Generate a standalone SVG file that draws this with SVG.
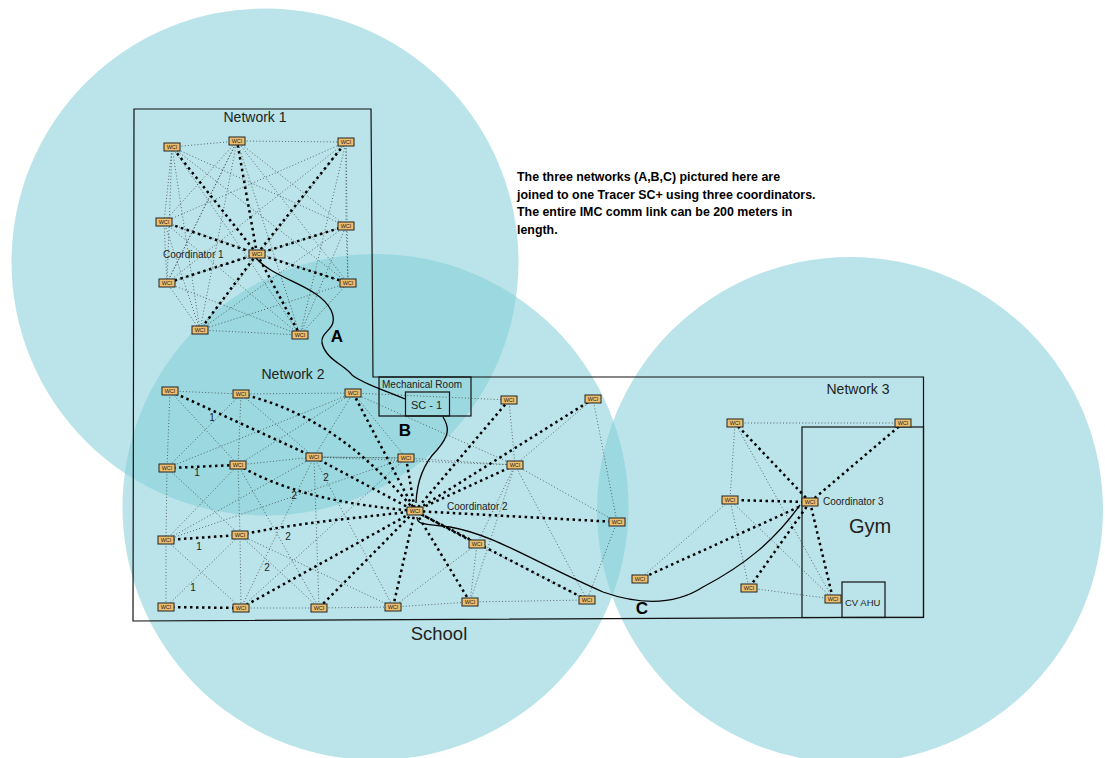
<svg xmlns="http://www.w3.org/2000/svg" width="1105" height="758" viewBox="0 0 1105 758">
<style>
.zone{fill:#82CDD7;fill-opacity:.55}
.wall{fill:none;stroke:#111;stroke-width:1.2}
.thin{fill:none;stroke:#333;stroke-width:.7;stroke-dasharray:1 2.2}
.thick{fill:none;stroke:#000;stroke-width:2.5;stroke-dasharray:2.5 3.5}
.cable{fill:none;stroke:#000;stroke-width:1.3}
.box{fill:#EDBE6E;stroke:#222;stroke-width:1}
.wci{font:5.5px "Liberation Sans",Arial,sans-serif;fill:#222;text-anchor:middle}
text{font-family:"Liberation Sans",Arial,sans-serif;fill:#222}
.m{text-anchor:middle}
.l14{font-size:14px}.l10{font-size:10px}.n{font-size:10px;text-anchor:middle}
.b{font-size:17px;font-weight:bold;fill:#000;text-anchor:middle}
.note{font-size:12.4px;font-weight:bold;fill:#000}
</style>
<defs><g id="w"><rect class="box" x="-8" y="-4" width="16" height="8"/><text class="wci" y="2">WCI</text></g></defs>
<circle class="zone" cx="265" cy="262" r="253.5"/>
<circle class="zone" cx="375.500" cy="507" r="253"/>
<circle class="zone" cx="850" cy="510" r="253"/>
<g id="walls">
<path class="wall" d="M134 109H371L373 377H923.500V617L133 621Z"/>
<rect class="wall" x="802" y="427" width="121.500" height="190.500"/>
<rect class="wall" x="842" y="582" width="43" height="35.500"/>
<rect class="wall" x="379" y="377" width="92" height="39"/>
<rect class="wall" x="405.500" y="392" width="44" height="24"/>
</g>
<g id="connectors">
<path class="thin" d="M172 147L237 141M237 141L346 142M172 147L164 222M164 222L167 283M167 283L200 330M200 330L300 335M300 335L348 283M348 283L346 226M346 226L346 142M172 147L167 283M172 147L200 330M237 141L164 222M237 141L167 283M237 141L200 330M346 142L164 222M346 142L167 283M346 142L300 335M346 142L348 283M172 147L346 226M237 141L346 226M237 141L348 283M237 141L300 335M172 147L300 335M172 147L348 283M164 222L200 330M164 222L300 335M164 222L348 283M167 283L300 335M200 330L346 226M200 330L348 283M300 335L346 226M167 283L346 226M167 283L237 141M200 330L346 142"/>
<path class="thin" d="M170 391L241 394M241 394L353 393M170 391L167 468M167 468L166 540M166 540L166 607M241 394L238 465M238 465L240 535M240 535L241 608M241 394L167 468M170 391L238 465M238 465L166 540M167 468L240 535M240 535L166 607M166 540L241 608M241 608L319 608M319 608L393 607M393 607L470 602M470 602L587 600M353 393L167 468M353 393L238 465M353 393L314 457M353 393L406 458M241 394L314 457M238 465L314 457M314 457L406 458M314 457L319 608M314 457L241 608M314 457L166 540M406 458L166 540M406 458L314 457M238 465L319 608M240 535L319 608M240 535L393 607M314 457L393 607M314 457L515 465M406 458L515 465M353 393L509 400M353 393L515 465M509 400L515 465M593 399L515 465M593 399L617 522M515 465L617 522M515 465L477 544M515 465L470 602M515 465L587 600M617 522L587 600M477 544L470 602M477 544L393 607M477 544L587 600M406 458L241 608"/>
<path class="thin" d="M735 423L903 423M735 423L730 500M735 423L833 599M730 500L640 579M730 500L749 588M730 500L833 599M749 588L833 599"/>
<path class="thick" d="M257 254L172 147M257 254L237 141M257 254L346 142M257 254L164 222M257 254L346 226M257 254L167 283M257 254L348 283M257 254L200 330M257 254L300 335"/>
<path class="thick" d="M170 391L314 457M314 457L415 511M167 468L238 465M166 540L240 535M166 607L241 608M353 393L415 511M406 458L415 511M241 394C310 410 365 450 415 511M238 465C290 495 350 505 415 511M240 535C300 522 360 518 415 511M241 608L415 511M319 608L415 511M393 607L415 511M509 400L415 511M593 399L415 511M515 465L415 511M617 522L415 511M477 544L415 511M470 602L415 511M587 600L415 511"/>
<path class="thick" d="M810 502L735 423M810 502L903 423M810 502L730 500M810 502L640 579M810 502L749 588M810 502L833 599"/>
<path class="cable" d="M256 258C275 280 318 285 331 310C340 330 320 330 322 343C326 360 345 365 352 375C365 385 385 390 405 399"/>
<path class="cable" d="M443 417C450 428 449 436 437 450C425 462 417 480 416 503"/>
<path class="cable" d="M417 517C417 525 425 524 450 527C495 535 530 560 603 592C640 605 675 605 703 587C745 565 775 540 800 505"/>
</g>
<g id="n1a" transform="translate(172 147)"><use href="#w"/></g>
<g id="n1b" transform="translate(237 141)"><use href="#w"/></g>
<g id="n1c" transform="translate(346 142)"><use href="#w"/></g>
<g id="n1d" transform="translate(164 222)"><use href="#w"/></g>
<g id="n1e" transform="translate(346 226)"><use href="#w"/></g>
<g id="n1f" transform="translate(167 283)"><use href="#w"/></g>
<g id="n1g" transform="translate(348 283)"><use href="#w"/></g>
<g id="n1h" transform="translate(200 330)"><use href="#w"/></g>
<g id="n1i" transform="translate(300 335)"><use href="#w"/></g>
<g id="coord1" transform="translate(257 254)"><use href="#w"/></g>
<g id="n2a" transform="translate(170 391)"><use href="#w"/></g>
<g id="n2b" transform="translate(241 394)"><use href="#w"/></g>
<g id="n2c" transform="translate(353 393)"><use href="#w"/></g>
<g id="n2d" transform="translate(167 468)"><use href="#w"/></g>
<g id="n2e" transform="translate(238 465)"><use href="#w"/></g>
<g id="n2f" transform="translate(314 457)"><use href="#w"/></g>
<g id="n2g" transform="translate(406 458)"><use href="#w"/></g>
<g id="n2h" transform="translate(166 540)"><use href="#w"/></g>
<g id="n2i" transform="translate(240 535)"><use href="#w"/></g>
<g id="n2j" transform="translate(166 607)"><use href="#w"/></g>
<g id="n2k" transform="translate(241 608)"><use href="#w"/></g>
<g id="n2l" transform="translate(319 608)"><use href="#w"/></g>
<g id="n2m" transform="translate(393 607)"><use href="#w"/></g>
<g id="n2n" transform="translate(470 602)"><use href="#w"/></g>
<g id="n2o" transform="translate(477 544)"><use href="#w"/></g>
<g id="n2p" transform="translate(587 600)"><use href="#w"/></g>
<g id="n2q" transform="translate(617 522)"><use href="#w"/></g>
<g id="n2r" transform="translate(515 465)"><use href="#w"/></g>
<g id="n2s" transform="translate(509 400)"><use href="#w"/></g>
<g id="n2t" transform="translate(593 399)"><use href="#w"/></g>
<g id="coord2" transform="translate(415 511)"><use href="#w"/></g>
<g id="n3a" transform="translate(735 423)"><use href="#w"/></g>
<g id="n3b" transform="translate(903 423)"><use href="#w"/></g>
<g id="n3c" transform="translate(730 500)"><use href="#w"/></g>
<g id="n3d" transform="translate(640 579)"><use href="#w"/></g>
<g id="n3e" transform="translate(749 588)"><use href="#w"/></g>
<g id="n3f" transform="translate(833 599)"><use href="#w"/></g>
<g id="coord3" transform="translate(810 502)"><use href="#w"/></g>
<g id="labels">
<text class="l14 m" x="255" y="122">Network 1</text>
<text class="l14 m" x="293" y="379">Network 2</text>
<text class="l14 m" x="858" y="394">Network 3</text>
<text class="l10" x="163" y="258">Coordinator 1</text>
<text class="l10" x="447" y="510">Coordinator 2</text>
<text class="l10" x="823" y="505">Coordinator 3</text>
<text class="l10" x="382" y="388">Mechanical Room</text>
<text x="411" y="409" style="font-size:11px">SC - 1</text>
<text x="845" y="606" style="font-size:9.500px">CV AHU</text>
<text class="m" x="870" y="533" style="font-size:20px">Gym</text>
<text class="m" x="439" y="640" style="font-size:18.500px">School</text>
<text class="b" x="337" y="342">A</text>
<text class="b" x="405" y="436">B</text>
<text class="b" x="642" y="614">C</text>
<text class="n" x="212" y="421">1</text>
<text class="n" x="197" y="476">1</text>
<text class="n" x="199" y="550">1</text>
<text class="n" x="193" y="591">1</text>
<text class="n" x="326" y="481">2</text>
<text class="n" x="294" y="499">2</text>
<text class="n" x="288" y="540">2</text>
<text class="n" x="267" y="571">2</text>
<text class="note" x="517" y="181">The three networks (A,B,C) pictured here are</text>
<text class="note" x="517" y="199">joined to one Tracer SC+ using three coordinators.</text>
<text class="note" x="517" y="216">The entire IMC comm link can be 200 meters in</text>
<text class="note" x="517" y="234">length.</text>
</g>
</svg>
